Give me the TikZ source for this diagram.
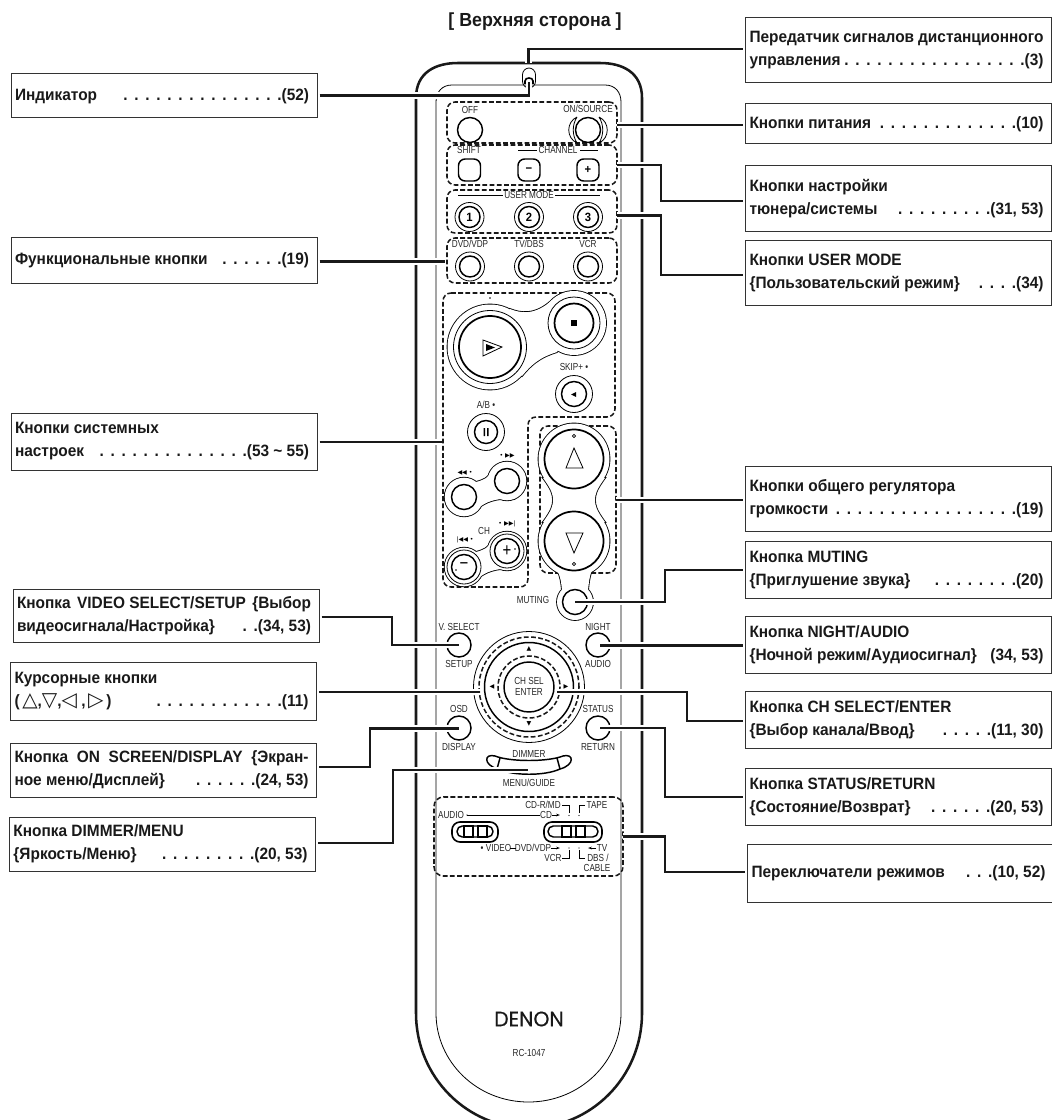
\documentclass[tikz,border=0pt]{standalone}
\usepackage{fontspec}
\usetikzlibrary{arrows.meta}
\newfontfamily\lblf[FakeStretch=0.94]{Liberation Sans}
\newfontfamily\btf[FakeStretch=0.8]{Liberation Sans}
\newfontfamily\symfnt{DejaVu Sans}
\newfontfamily\denonf[FakeStretch=0.97,FakeBold=0.4]{Poppins}
\newcommand\dts[1]{\foreach\ii in {1,...,#1}{\hbox to 8.25pt{.\hss}}}
\newcommand\oneline[1]{\hbox{\hbox to 220.5pt{#1}\kern 3pt}}
\newcommand\twoline[2]{\hbox{\vbox{\hsize=220.5pt\baselineskip=17.25pt\hbox to 220.5pt{#1}\hbox to 220.5pt{#2}}\kern 3pt}}
\newcommand\blob[2]{\draw[line width=1.3pt] #1 #2; \fill[white] #1; \fill[white] #2;}
\newcommand\symc[1]{{\symfnt\fontsize{15}{14}\selectfont #1}}
\tikzset{
  rmthk/.style={line width=1.1pt,draw=black},
  rmthn/.style={line width=.6pt,draw=black},
  body/.style={line width=1.9pt,draw=black!90},
  dbox/.style={draw=black!90,line width=1.15pt,dash pattern=on 3.6pt off 1.8pt},
  dnode/.style={dbox,rounded corners=6pt,inner sep=0pt,outer sep=0pt,minimum width=127.5pt},
  conn/.style={line width=1.6pt,draw=black!90,preaction={draw=white,line width=5.2pt}},
  lblbox/.style={draw=black!80,line width=.75pt,inner sep=0pt,outer sep=2pt,minimum width=229.5pt,
    font=\lblf\bfseries\fontsize{12.3}{14}\selectfont,text=black!90},
  btxt/.style={inner sep=0pt,font=\btf\fontsize{7.65}{9}\selectfont,text=black!85},
  bnum/.style={inner sep=0pt,font=\lblf\bfseries\fontsize{9}{10}\selectfont},
  bsym/.style={inner sep=0pt,font=\symfnt\fontsize{4.6}{5}\selectfont},
}
\begin{document}
\begin{tikzpicture}[x=0.75pt,y=-0.75pt]
\useasboundingbox (0,0) rectangle (1052,1120);
\clip (0,0) rectangle (1052,1120);

% body
\draw[body] (416,1013) -- (416,98) .. controls (416,72) and (436,63) .. (458,63) -- (600,63)
  .. controls (622,63) and (642,72) .. (642,98) -- (642,1013)
  .. controls (642,1078) and (590,1128) .. (529,1128) .. controls (468,1128) and (416,1078) .. (416,1013);
\draw[rmthn] (436,1013) -- (436,102) .. controls (436,92) and (442,85) .. (452,85) -- (605,85)
  .. controls (615,85) and (621,92) .. (621,102) -- (621,1013)
  .. controls (621,1062) and (580,1102) .. (528.5,1102) .. controls (477,1102) and (436,1062) .. (436,1013);
% indicator
\draw[rmthn,rounded corners=5pt] (522.5,68) rectangle (535.5,88);
\draw[line width=1.2pt] (525,84) -- (525,81) .. controls (525,77) and (533,77) .. (533,81) -- (533,84);
\draw[line width=.9pt] (526,84) -- (532,84);

% title
\node[inner sep=0pt,font=\lblf\bfseries\fontsize{14.2}{16}\selectfont,text=black!90] (title) at (535,22) {[ Верхняя сторона ]};

% dashed groups
\node[dnode,minimum height=30.75pt] (dbPower) at (532,122.5) {};
\node[dnode,minimum height=30pt] (dbTuner) at (532,165) {};
\node[dnode,minimum height=32.25pt] (dbUser) at (532,211.5) {};
\node[dnode,minimum height=33.75pt] (dbFunc) at (532,260.5) {};
\path[dbox,rounded corners=6pt] (443,293) -- (615,293) -- (615,417) -- (528,417) -- (528,587) -- (443,587) -- cycle;
\node[inner sep=0pt,outer sep=0pt] (dbSys) at (443,442) {};
\node[dnode,minimum width=57pt,minimum height=110.25pt] (dbVol) at (578,499.5) {};
\node[dnode,minimum width=141.75pt,minimum height=59.25pt,rounded corners=7pt] (dbSw) at (528.5,836.5) {};

% power
\node[btxt] (tOff) at (470,110) {OFF};
\node[btxt] (tOn) at (588,109) {ON/SOURCE};
\draw[rmthk] (470,130) circle[radius=12.5];
\draw[rmthn] (577,117) .. controls (566,122) and (566,138) .. (577,143) .. controls (572,135) and (572,125) .. (577,117);
\draw[rmthn] (599,117) .. controls (610,122) and (610,138) .. (599,143) .. controls (604,135) and (604,125) .. (599,117);
\draw[rmthk] (588,130) circle[radius=12.5];

% tuner row
\node[btxt] (tShift) at (469,150) {SHIFT};
\node[btxt] (tChan) at (558,150) {CHANNEL};
\draw[rmthn] (518,150) -- (537,150) (580,150) -- (598,150);
\draw[rmthk,rounded corners=5pt] (458.5,159) rectangle (480.5,181);
\draw[rmthk,rounded corners=5pt] (518,159) rectangle (540,181);
\draw[rmthk,rounded corners=5pt] (577,159) rectangle (599,181);
\node[bnum] (tMinus) at (529,170) {−};
\node[bnum] (tPlus) at (588,170) {+};

% user mode
\node[btxt] (tUser) at (529,195) {USER MODE};
\draw[rmthn] (458,195) -- (503,195) (555,195) -- (600,195);
\foreach \nm/\xx/\dd in {u1/469.5/1,u2/529/2,u3/588/3}{
  \draw[rmthn] (\xx,217) circle[radius=14.5];
  \draw[rmthk] (\xx,217) circle[radius=10.5];
  \node[bnum] (\nm) at (\xx,217) {\dd};
}
% function
\node[btxt] (tDvd) at (470,243.5) {DVD/VDP};
\node[btxt] (tTv) at (529,243.5) {TV/DBS};
\node[btxt] (tVcr) at (588,243.5) {VCR};
\foreach \xx in {470,529,588}{
  \draw[rmthn] (\xx,266.5) circle[radius=14.5];
  \draw[rmthk] (\xx,266.5) circle[radius=10.5];
}

% play / stop
\blob{(490,347) circle[radius=42.5] (574,323) circle[radius=32]}
     {(510,309) .. controls (520,313) and (535,316) .. (552,300) -- (574,323) -- (557,352) .. controls (545,356) and (535,360) .. (522,376) -- (490,347) -- cycle}
\draw[rmthn] (490,347) circle[radius=36.5];
\draw[line width=1.3pt] (490,347) circle[radius=31];
\draw[rmthn] (574,323) circle[radius=26];
\draw[line width=1.3pt] (574,323) circle[radius=19.5];
\draw[rmthn] (483,340) -- (502,347) -- (483,356) -- cycle;
\fill (486,344) -- (495,347.5) -- (486,351) -- cycle;
\fill (571,320) rectangle (577,326);
\fill (490,298) circle[radius=.8];

% skip
\node[btxt] (tSkip) at (574,367) {SKIP+ •};
\draw[rmthn] (574,394) circle[radius=18.5];
\draw[rmthk] (574,394) circle[radius=12.5];
\fill (571,394.5) -- (576,392) -- (576,397) -- cycle;
% pause
\node[btxt] (tAB) at (486,405) {A/B •};
\draw[rmthn] (486,432) circle[radius=18.5];
\draw[rmthk] (486,432) circle[radius=11.5];
\fill (483.5,428) rectangle (485.2,436) (487,428) rectangle (488.7,436);

% rew / ff and ch
\foreach \dy in {0,70}{
\begin{scope}[shift={(0,\dy)}]
\blob{(464,497) circle[radius=19.3] (507,481) circle[radius=19.3]}
     {(476,482) .. controls (482,480) and (488,480) .. (494,467) -- (507,481) -- (514,499) .. controls (500,498) and (490,500) .. (481,506) -- (464,497) -- cycle}
\draw[rmthk] (464,497) circle[radius=12.5];
\draw[rmthk] (507,481) circle[radius=12.5];
\end{scope}}
\draw[rmthn] (464,567) circle[radius=17];
\draw[rmthn] (507,551) circle[radius=17];
\node[bsym] (tRew) at (465,473) {◀◀ •};
\node[bsym] (tFf) at (507,456) {• ▶▶};
\node[btxt] (tCh) at (484,531) {CH};
\node[bsym] (tNx) at (507,524) {• ▶▶|};
\node[bsym] (tPv) at (465,540) {|◀◀ •};
\node[inner sep=0pt,font=\btf\fontsize{14}{14}\selectfont] (tChMinus) at (464,566.5) {−};
\node[inner sep=0pt,font=\btf\fontsize{14}{14}\selectfont] (tChPlus) at (507,551) {+};
\fill (456,570) circle[radius=.8] (515,549) circle[radius=.8];

% volume and muting
\blob{(574,459) circle[radius=35.5] (574,541) circle[radius=35.5] (575,602) circle[radius=18]}
     {(543,478) .. controls (552,490) and (553,495) .. (553,500) .. controls (553,505) and (552,510) .. (543,522) -- (605,522) .. controls (596,510) and (595,505) .. (595,500) .. controls (595,495) and (596,490) .. (605,478) -- cycle
      (557,570) .. controls (561,578) and (561,582) .. (562,590) -- (588,590) .. controls (589,582) and (589,578) .. (592,570) -- cycle}
\draw[line width=1.3pt] (574,459) circle[radius=29.5];
\draw[line width=1.3pt] (574,541) circle[radius=29.5];
\draw[rmthn] (574,448) -- (583,468) -- (566,468) -- cycle;
\draw[rmthn] (574,553) -- (583,533) -- (566,533) -- cycle;
\draw[line width=.5pt] (574,436) circle[radius=1.7] (574,564) circle[radius=1.7];
\draw[rmthk] (575,602) circle[radius=12.5];
\node[btxt] (tMut) at (533,600) {MUTING};

% v.select etc
\node[btxt] (tVs) at (459,627) {V. SELECT};
\node[btxt] (tSet) at (459,664) {SETUP};
\node[btxt] (tNi) at (598,627) {NIGHT};
\node[btxt] (tAu) at (598,664) {AUDIO};
\node[btxt] (tOs) at (459,709) {OSD};
\node[btxt] (tDi) at (459,747) {DISPLAY};
\node[btxt] (tSt) at (598,709) {STATUS};
\node[btxt] (tRe) at (598,747) {RETURN};
\foreach \xx/\yy in {459/645,598/645,459/728,598/728}{\draw[rmthk] (\xx,\yy) circle[radius=12];}

% wheel
\draw[rmthn] (529,687) circle[radius=55.5];
\draw[dbox] (529,687) circle[radius=50];
\draw[rmthk] (529,687) circle[radius=44.5];
\draw[dbox] (529,687) circle[radius=31];
\draw[rmthk] (529,687) circle[radius=25];
\node[btxt] (tCs) at (529,681) {CH SEL};
\node[btxt] (tEn) at (529,692) {ENTER};
\node[bsym] (tWu) at (529,649) {▲};
\node[bsym] (tWd) at (529,724) {▼};
\node[bsym] (tWl) at (492,687) {◀};
\node[bsym] (tWr) at (566,687) {▶};

% dimmer
\node[btxt] (tDim) at (529,754) {DIMMER};
\node[btxt] (tMen) at (529,783) {MENU/GUIDE};
\draw[rmthk] (495,756) .. controls (510,762) and (548,762) .. (563,756) .. controls (574,753) and (575,765) .. (560,769)
  .. controls (545,776) and (513,776) .. (498,769) .. controls (483,765) and (484,753) .. (495,756) -- cycle;
\draw[rmthk] (500,758) -- (497,769) (557,758) -- (560,769);

% switches
\node[btxt] (tAud) at (451,815) {AUDIO};
\node[btxt] (tCd) at (546,815) {CD};
\node[btxt] (tCdr) at (543,805) {CD-R/MD};
\node[btxt] (tTape) at (597,805) {TAPE};
\node[btxt] (tVid) at (496,848) {• VIDEO};
\node[btxt] (tDv2) at (533,848) {DVD/VDP};
\node[btxt] (tVc2) at (553,858) {VCR};
\node[btxt] (tTv2) at (602,848) {TV};
\node[btxt] (tDbs) at (598,858) {DBS /};
\node[btxt] (tCab) at (597,868) {CABLE};
\draw[rmthn] (467,815) -- (540,815);
\draw[rmthn,-{Stealth[length=3pt,width=2pt]}] (552,815) -- (560,815);
\draw[rmthn] (562,805) -- (569,805) -- (569,813);
\draw[rmthn] (585,805) -- (579,805) -- (579,813);
\draw[rmthn] (510,848) -- (516,848);
\draw[rmthn,-{Stealth[length=3pt,width=2pt]}] (551,848) -- (560,848);
\draw[rmthn] (562,858) -- (569,858) -- (569,850);
\draw[rmthn,-{Stealth[length=3pt,width=2pt]}] (596,848) -- (588,848);
\draw[rmthn] (579,850) -- (579,858) -- (585,858);
\fill (467,815) circle[radius=.7] (569,815.5) circle[radius=.7] (579,815.5) circle[radius=.7] (569,848) circle[radius=.7] (579,848) circle[radius=.7];
\draw[line width=1.2pt,rounded corners=6pt] (452,822) rectangle (498,842);
\draw[rmthk,rounded corners=4pt] (457,826) rectangle (493,837);
\draw[rmthk] (464,826) rectangle (473,837) (478,826) rectangle (487,837);
\draw[line width=1.2pt,rounded corners=6pt] (544,822) rectangle (602,842);
\draw[rmthk,rounded corners=4pt] (548,826) rectangle (598,837);
\draw[rmthk] (562,826) rectangle (571,837) (576,826) rectangle (585,837);

% brand
\node[inner sep=0pt,font=\denonf\fontsize{15.75}{18}\selectfont,text=black!90] (tDenon) at (529,1019) {DENON};
\node[btxt] (tModel) at (529,1053) {RC-1047};

% label boxes, left
\node[lblbox,minimum height=33pt] (bInd) at (164,96) {\oneline{Индикатор \hfill\dts{14}.(52)}};
\node[lblbox,minimum height=34.5pt] (bFunc) at (164,260) {\oneline{Функциональные кнопки \hfill\dts{5}.(19)}};
\node[lblbox,minimum height=42.75pt] (bSys) at (164,441.5) {\twoline{Кнопки системных\hfill}{настроек \hfill\dts{13}.(53 \textasciitilde{} 55)}};
\node[lblbox,minimum height=39.75pt] (bVid) at (166,615.5) {\twoline{Кнопка\hfill VIDEO SELECT/SETUP\hfill \{Выбор}{видеосигнала/Настройка\} \hfill\dts{1}.(34, 53)}};
\node[lblbox,minimum height=43.5pt] (bCur) at (163.5,691) {\twoline{Курсорные кнопки\hfill}{(\kern2pt\symc{△},\symc{▽},\symc{◁} ,\kern2pt \symc{▷}\kern2pt) \hfill\dts{11}.(11)}};
\node[lblbox,minimum height=40.5pt] (bOsd) at (163.5,770) {\twoline{Кнопка\hfill ON\hfill SCREEN/DISPLAY\hfill \{Экран-}{ное меню/Дисплей\} \hfill\dts{5}.(24, 53)}};
\node[lblbox,minimum height=40.5pt] (bDim) at (162.5,844) {\twoline{Кнопка DIMMER/MENU\hfill}{\{Яркость/Меню\} \hfill\dts{8}.(20, 53)}};
% label boxes, right
\node[lblbox,minimum height=48.75pt] (bTx) at (898.5,50.5) {\twoline{Передатчик сигналов дистанционного\hfill}{управления \hfill\dts{16}.(3)}};
\node[lblbox,minimum height=30pt] (bPow) at (898.5,124) {\oneline{Кнопки питания \hfill\dts{12}.(10)}};
\node[lblbox,minimum height=48.75pt] (bTun) at (898.5,198.5) {\twoline{Кнопки настройки\hfill}{тюнера/системы \hfill\dts{8}.(31, 53)}};
\node[lblbox,minimum height=48.75pt] (bUsr) at (898.5,272.5) {\twoline{Кнопки USER MODE\hfill}{\{Пользовательский режим\} \hfill\dts{3}.(34)}};
\node[lblbox,minimum height=48.75pt] (bVol) at (898.5,498.5) {\twoline{Кнопки общего регулятора\hfill}{громкости \hfill\dts{16}.(19)}};
\node[lblbox,minimum height=42.75pt] (bMut) at (898.5,569.5) {\twoline{Кнопка MUTING\hfill}{\{Приглушение звука\} \hfill\dts{7}.(20)}};
\node[lblbox,minimum height=42.75pt] (bNig) at (898.5,644.5) {\twoline{Кнопка NIGHT/AUDIO\hfill}{\{Ночной режим/Аудиосигнал\}\hfill(34, 53)}};
\node[lblbox,minimum height=42.75pt] (bChs) at (898.5,719.5) {\twoline{Кнопка CH SELECT/ENTER\hfill}{\{Выбор канала/Ввод\} \hfill\dts{4}.(11, 30)}};
\node[lblbox,minimum height=42.75pt] (bSta) at (898.5,796.5) {\twoline{Кнопка STATUS/RETURN\hfill}{\{Состояние/Возврат\} \hfill\dts{5}.(20, 53)}};
\node[lblbox,minimum height=43.5pt] (bSwi) at (900.5,873) {\oneline{Переключатели режимов \hfill\dts{2}.(10, 52)}};

% connector targets and bends
\coordinate (pInd) at (529,95.5);
\coordinate (pIndEnd) at (529,82);
\coordinate (pTx) at (528.5,49);
\coordinate (pTxEnd) at (528.5,63);
\coordinate (sPow) at (617,125);
\coordinate (kTun) at (661,201);
\coordinate (sUsr) at (617,215.5);
\coordinate (kUsr) at (661,275);
\coordinate (sFunc) at (445,261.5);
\coordinate (sVol) at (616,500);
\coordinate (btnMut) at (575,602);
\coordinate (kMut) at (665,570);
\coordinate (btnVid) at (459,645);
\coordinate (kVid) at (392,617);
\coordinate (sCur) at (480,692);
\coordinate (btnOsd) at (459,728.5);
\coordinate (kOsd) at (370,767);
\coordinate (btnDim) at (528,770);
\coordinate (kDim) at (393,843);
\coordinate (btnNig) at (600,645.5);
\coordinate (btnChs) at (557,692);
\coordinate (kChs) at (687,721);
\coordinate (btnSta) at (600,728);
\coordinate (kSta) at (665,797);
\coordinate (sSwi) at (623,836.5);
\coordinate (kSwi) at (665,872);

% connectors
\draw[conn] (bInd.east |- pInd) -- (pInd) -- (pIndEnd);
\draw[conn] (bTx.west |- pTx) -- (pTx) -- (pTxEnd);
\draw[conn] (sPow) -- (bPow.west |- sPow);
\draw[conn] (dbTuner.east) -| (kTun) -- (bTun.west |- kTun);
\draw[conn] (sUsr) -| (kUsr) -- (bUsr.west |- kUsr);
\draw[conn] (bFunc.east |- sFunc) -- (sFunc);
\draw[conn] (bSys.east |- dbSys) -- (dbSys);
\draw[conn] (sVol) -- (bVol.west |- sVol);
\draw[conn] (btnMut) -| (kMut) -- (bMut.west |- kMut);
\draw[conn] (bVid.east |- kVid) -- (kVid) |- (btnVid);
\draw[conn] (bCur.east |- sCur) -- (sCur);
\draw[conn] (bOsd.east |- kOsd) -- (kOsd) |- (btnOsd);
\draw[conn] (bDim.east |- kDim) -- (kDim) |- (btnDim);
\draw[conn] (btnNig) -- (bNig.west |- btnNig);
\draw[conn] (btnChs) -| (kChs) -- (bChs.west |- kChs);
\draw[conn] (btnSta) -| (kSta) -- (bSta.west |- kSta);
\draw[conn] (sSwi) -| (kSwi) -- (bSwi.west |- kSwi);
\end{tikzpicture}
\end{document}
